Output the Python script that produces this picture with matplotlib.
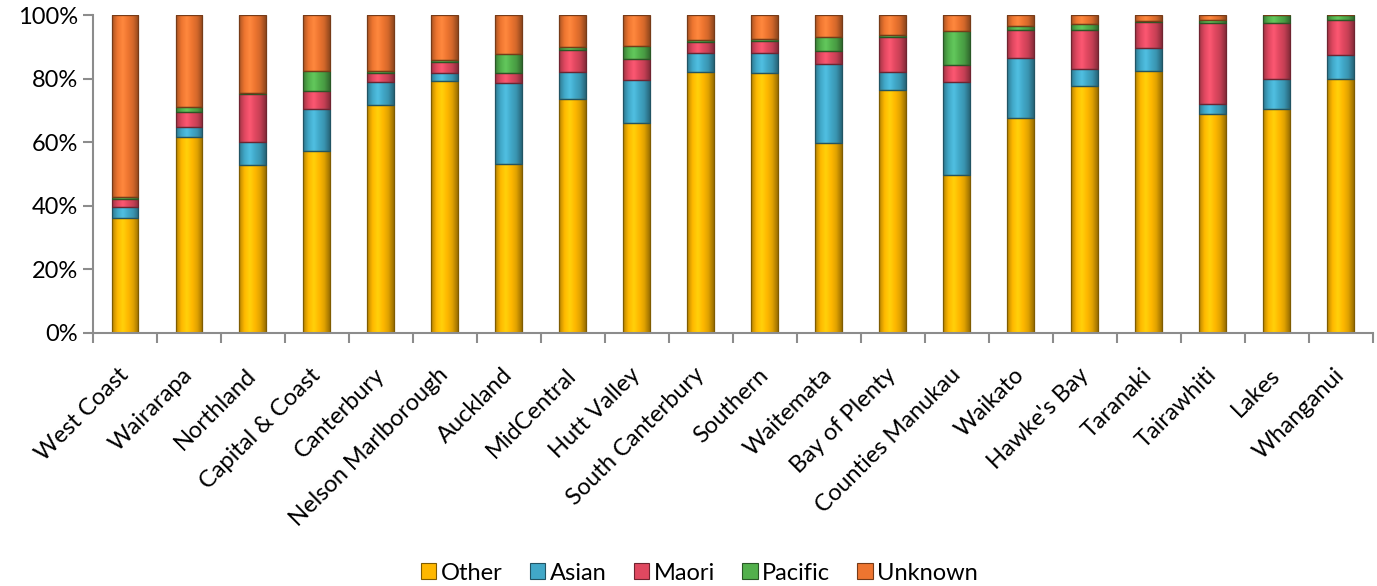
import numpy as np
import matplotlib.pyplot as plt
from matplotlib.colors import LinearSegmentedColormap, to_rgb
from matplotlib.patches import Patch
from matplotlib.ticker import PercentFormatter

plt.rcParams['font.family'] = ['Lato', 'DejaVu Sans']

districts = ["West Coast", "Wairarapa", "Northland", "Capital & Coast", "Canterbury",
             "Nelson Marlborough", "Auckland", "MidCentral", "Hutt Valley", "South Canterbury",
             "Southern", "Waitemata", "Bay of Plenty", "Counties Manukau", "Waikato",
             "Hawke's Bay", "Taranaki", "Tairawhiti", "Lakes", "Whanganui"]

# percentages
other   = [36.1, 61.8, 53.0, 57.1, 71.8, 79.4, 53.1, 73.5, 66.2, 82.2,
           81.9, 59.7, 76.6, 49.7, 67.5, 77.6, 82.6, 69.0, 70.4, 79.8]
asian   = [3.4, 3.1, 7.2, 13.5, 7.3, 2.5, 25.6, 8.7, 13.5, 5.8,
           6.3, 25.1, 5.4, 29.4, 19.1, 5.6, 7.1, 2.9, 9.4, 7.6]
maori   = [2.7, 4.7, 14.9, 5.4, 2.6, 3.4, 3.2, 7.0, 6.4, 3.6,
           3.7, 4.0, 11.0, 5.1, 8.9, 12.3, 8.1, 25.5, 17.8, 11.0]
pacific = [0.5, 1.5, 0.5, 6.5, 0.7, 0.6, 6.0, 0.7, 4.3, 0.6,
           0.6, 4.4, 0.8, 10.9, 1.1, 1.6, 0.4, 1.2, 2.4, 1.6]
unknown = [57.3, 28.9, 24.4, 17.5, 17.6, 14.1, 12.1, 10.1, 9.6, 7.8,
           7.5, 6.8, 6.2, 4.9, 3.4, 2.9, 1.8, 1.4, 0.0, 0.0]

series = [("Other", other, "#FFB800"),
          ("Asian", asian, "#41A8C8"),
          ("Maori", maori, "#E04860"),
          ("Pacific", pacific, "#52B04C"),
          ("Unknown", unknown, "#EE7530")]


def shade(ax, bar, col):
    # excel-ish bevel look: darker sides, lighter middle
    h = bar.get_height()
    if h <= 0:
        return
    base = np.array(to_rgb(col))
    dark = base * 0.72
    light = np.minimum(base * 1.08 + 0.04, 1)
    cmap = LinearSegmentedColormap.from_list('s', [dark, base, light, base, base * 0.88, dark * 0.85])
    grad = np.linspace(0, 1, 64).reshape(1, -1)
    x0, y0, w = bar.get_x(), bar.get_y(), bar.get_width()
    im = ax.imshow(grad, cmap=cmap, extent=(x0, x0 + w, y0, y0 + h), aspect='auto',
                   interpolation='bicubic', zorder=2.1)
    im.set_clip_path(bar)


fig = plt.figure(figsize=(13.77, 5.86), dpi=100)
ax = fig.add_axes([0.0675, 0.432, 0.9295, 0.542])

x = np.arange(len(districts))
bottom = np.zeros(len(districts))
handles = []
for name, vals, col in series:
    vals = np.array(vals)
    edge = np.array(to_rgb(col)) * 0.5
    bars = ax.bar(x, vals, 0.42, bottom=bottom, color=col, edgecolor=edge, linewidth=0.9, zorder=2)
    for b in bars:
        shade(ax, b, col)
        b.set_facecolor('none')
        b.set_zorder(2.2)
    bottom += vals
    handles.append(Patch(facecolor=col, edgecolor=edge, linewidth=0.8, label=name))

ax.set_xlim(-0.5, len(districts) - 0.5)
ax.set_ylim(0, 100)
ax.yaxis.set_major_formatter(PercentFormatter(decimals=0))
ax.set_yticks([0, 20, 40, 60, 80, 100])

ax.set_xticks(np.arange(-0.5, len(districts), 1))
ax.set_xticklabels([])
ax.set_xticks(x, minor=True)
ax.set_xticklabels(districts, minor=True, rotation=45, ha='right', va='center',
                   rotation_mode='anchor')
ax.tick_params(axis='x', which='minor', length=0, pad=28, labelsize=17)
ax.tick_params(axis='x', which='major', length=7, width=1.5, color='#8c8c8c')
ax.tick_params(axis='y', length=7, width=1.5, color='#8c8c8c', labelsize=17, pad=4)

for s in ['top', 'right']:
    ax.spines[s].set_visible(False)
for s in ['left', 'bottom']:
    ax.spines[s].set_color('#8c8c8c')
    ax.spines[s].set_linewidth(1.5)

fig.legend(handles=handles, loc='center', bbox_to_anchor=(0.508, 0.022), ncol=5,
           frameon=False, fontsize=17, handlelength=0.65, handleheight=0.65,
           handletextpad=0.2, columnspacing=1.15)

fig.savefig('out.png', dpi=100)
